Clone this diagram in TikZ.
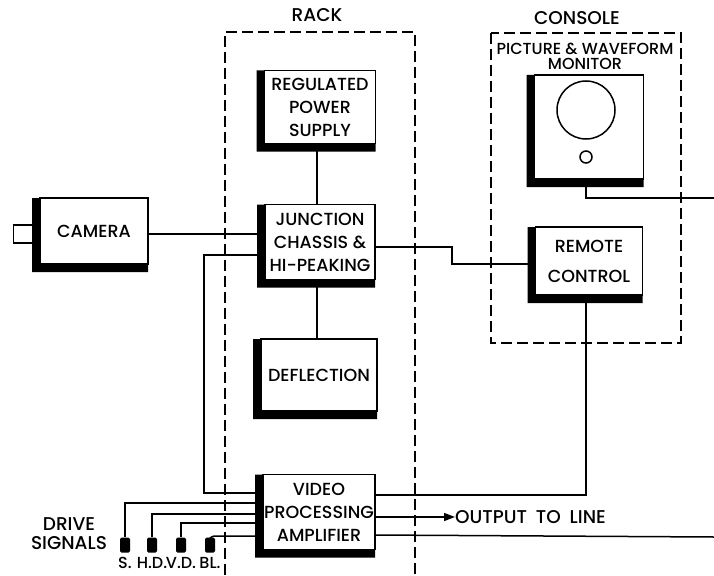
\documentclass[tikz,border=0pt]{standalone}
\usepackage{fontspec}
\setmainfont{Poppins}[UprightFont={Poppins Medium}]
\usetikzlibrary{positioning,arrows.meta}

\tikzset{
  unit/.style={draw, line width=1.5pt, fill=white, align=center, inner sep=0pt, outer sep=0pt,
    font=\fontsize{17.5}{23}\selectfont},
  wire/.style={line width=1.5pt},
  frame/.style={line width=1.7pt, dash pattern=on 11pt off 5pt},
  plug/.style={fill, rounded corners=1.5pt, minimum width=10pt, minimum height=15pt, inner sep=0pt},
  tag/.style={font=\fontsize{18.5}{19}\selectfont, inner sep=0pt},
  small tag/.style={font=\fontsize{16}{16}\selectfont, inner sep=0pt},
}

\begin{document}
\begin{tikzpicture}[x=1pt,y=-1pt]
\useasboundingbox (0,0) rectangle (714,575);

% rack and console outlines
\draw[frame] (225,575) -- (225,32) -- (415,32) -- (415,575);
\draw[frame] (491,33) rectangle (681,343);
\node[tag] (rack-lab) at (317,15) {RACK};
\node[tag] (console-lab) at (577,18) {CONSOLE};
\node[small tag] (monitor-lab) at (585,49) {PICTURE \& WAVEFORM};
\node[small tag] (monitor-lab2) at (585,64) {MONITOR};

% units
\node[unit, minimum width=108pt, minimum height=66pt] (camera) at (94,231) {CAMERA};
\node[draw, line width=1.5pt, minimum width=19pt, minimum height=18pt, anchor=east] (lens)
  at ([xshift=-7pt,yshift=-3pt]camera.west) {};
\node[unit, minimum width=111pt, minimum height=73pt] (power) at (320,107) {REGULATED\\POWER\\SUPPLY};
\node[unit, minimum width=110pt, minimum height=75pt] (junction) at (320,242) {JUNCTION\\CHASSIS \&\\HI-PEAKING};
\node[unit, minimum width=116pt, minimum height=72pt] (deflect) at (319,375) {DEFLECTION};
\node[unit, minimum width=112pt, minimum height=75pt] (video) at (319,512) {VIDEO\\PROCESSING\\AMPLIFIER};
\node[unit, minimum width=109pt, minimum height=104pt] (monitor) at (589,127) {};
\node[draw, circle, line width=1.5pt, minimum size=58pt] (screen) at (586,110) {};
\node[draw, circle, line width=1.5pt, minimum size=12pt] (knob) at (586,157) {};
\node[unit, minimum width=107pt, minimum height=68pt] (remote) at (589,261) {REMOTE\\[7pt]CONTROL};

% heavy shading on left and bottom
\foreach \n in {camera,power,junction,deflect,video,monitor,remote}
  \fill ([xshift=-8pt]\n.north west) -- (\n.north west) -- (\n.south west) -- (\n.south east)
    -- ([yshift=-8pt]\n.south east) -- ([xshift=-8pt,yshift=-8pt]\n.south west) -- cycle;

% drive signal plugs
\node[tag, align=center] (drive-lab) at (69,534) {DRIVE\\SIGNALS};
\node[plug] (s) at (125,545) {};
\node[plug] (hd) at (152,545) {};
\node[plug] (vd) at (181,545) {};
\node[plug] (bl) at (210,545) {};
\node[small tag, below=4pt of s] (s-lab) {S.};
\node[small tag, below=4pt of hd] (hd-lab) {H.D.};
\node[small tag, below=4pt of vd] (vd-lab) {V.D.};
\node[small tag, below=4pt of bl] (bl-lab) {BL.};

\node[tag, anchor=west] (output) at (455,517) {OUTPUT\hspace{4pt} TO\hspace{4pt} LINE};

% wiring
\draw[wire] (power.south -| 317,0) -- (junction.north -| 317,0);
\draw[wire] (junction.south -| 317,0) -- (deflect.north -| 317,0);
\draw[wire] (camera.east |- 0,234) -- (junction.west |- 0,234);
\draw[wire] (junction.west |- 0,255) -| (204,493) -- (video.west |- 0,493);
\draw[wire] (junction.east |- 0,247) -| (452,264) -- (remote.west |- 0,264);
\draw[wire] (remote.south -| 586,0) |- (video.east |- 0,495);
\draw[wire] (monitor.south -| 586,0) |- (714,198);
\draw[wire] (video.east |- 0,535) -- (714,537);
\draw[wire, -{Triangle[length=11pt,width=8pt]}] (video.east |- output) -- (output.west);
\draw[wire] (s.north) |- (video.west |- 0,503);
\draw[wire] (hd.north) |- (video.west |- 0,514);
\draw[wire] (vd.north) |- (video.west |- 0,523);
\draw[wire, rounded corners=4pt] (bl.north) |- (video.west |- 0,536);
\end{tikzpicture}
\end{document}
